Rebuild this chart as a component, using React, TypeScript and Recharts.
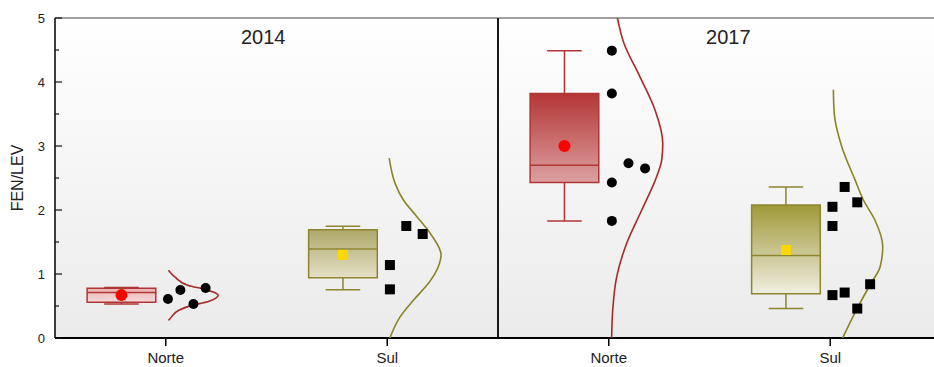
import React from 'react';
import {
  ComposedChart,
  XAxis,
  YAxis,
  Scatter,
  ReferenceArea,
  ReferenceLine,
  ReferenceDot,
} from 'recharts';

// Panels and groups inside each panel
const years = ['2014', '2017'];
const regions = ['Norte', 'Sul'];
const yTicks = [0, 0.5, 1, 1.5, 2, 2.5, 3, 3.5, 4, 4.5, 5];

// Box summaries, one entry per group: 2014 Norte, 2014 Sul, 2017 Norte, 2017 Sul
const whiskerLow = [0.53, 0.755, 1.83, 0.46];
const quartile1 = [0.557, 0.94, 2.43, 0.69];
const medians = [0.71, 1.39, 2.7, 1.29];
const quartile3 = [0.776, 1.69, 3.82, 2.08];
const whiskerHigh = [0.79, 1.745, 4.49, 2.36];
const means = [0.67, 1.3, 3.0, 1.375];

// Raw observations (value) with their jitter column (offset from the group tick)
const obsNorte2014 = [0.61, 0.75, 0.53, 0.78];
const jitNorte2014 = [0.01, 0.066, 0.125, 0.18];
const obsSul2014 = [1.14, 0.76, 1.75, 1.625];
const jitSul2014 = [0.012, 0.012, 0.086, 0.16];
const obsNorte2017 = [4.49, 3.82, 2.73, 2.65, 2.43, 1.83];
const jitNorte2017 = [0.014, 0.014, 0.089, 0.164, 0.014, 0.014];
const obsSul2017 = [2.05, 1.75, 2.36, 2.12, 0.67, 0.71, 0.84, 0.46];
const jitSul2017 = [0.01, 0.01, 0.065, 0.122, 0.01, 0.065, 0.18, 0.122];

// Normal-curve outlines: level (y) and width to the right of the group tick
const curveYNorte2014 = [1.06, 0.95, 0.82, 0.76, 0.67, 0.57, 0.51, 0.43, 0.3, 0.275];
const curveWNorte2014 = [0.012, 0.042, 0.102, 0.177, 0.237, 0.192, 0.117, 0.057, 0.019, 0.012];
const curveYSul2014 = [2.81, 2.42, 2.16, 1.9, 1.64, 1.375, 1.3, 1.11, 0.85, 0.59, 0.33, 0.07, 0.0];
const curveWSul2014 = [0.009, 0.035, 0.072, 0.133, 0.193, 0.238, 0.243, 0.23, 0.185, 0.118, 0.058, 0.02, 0.012];
const curveYNorte2017 = [5.0, 4.6, 4.08, 3.56, 3.04, 2.78, 2.52, 2.0, 1.48, 0.96, 0.44, 0.0];
const curveWNorte2017 = [0.039, 0.069, 0.141, 0.209, 0.244, 0.239, 0.216, 0.149, 0.081, 0.036, 0.018, 0.013];
const curveYSul2017 = [3.88, 3.51, 2.99, 2.47, 2.16, 1.84, 1.43, 1.11, 0.85, 0.46, 0.0];
const curveWSul2017 = [0.014, 0.018, 0.052, 0.112, 0.149, 0.202, 0.237, 0.225, 0.183, 0.121, 0.056];

// Styling per group
const strokeColors = ['#b03535', '#8d8530', '#b03535', '#8d8530'];
const curveColors = ['#a52a2a', '#8a8422', '#a52a2a', '#8a8422'];
const boxTop = ['#eab0b0', '#aea86a', '#b43636', '#9f9838'];
const boxBottom = ['#f6dada', '#e3e0c6', '#dca0a0', '#f0eee0'];
const meanColors = ['#ff0000', '#ffd700', '#ff0000', '#ffd700'];
const markerShapes = ['circle', 'square', 'circle', 'square'];

const FONT = '"Liberation Sans", Arial, sans-serif';
const BOX_SHIFT = -0.2;
const BOX_HALF = 0.155;
const CAP_HALF = 0.078;
const Y_TICK_GAP = 10;
const TITLE_X = [0.94, 3.04];

const groupCenter = (g: number) => g + 0.5;

const observations = [
  [obsNorte2014, jitNorte2014],
  [obsSul2014, jitSul2014],
  [obsNorte2017, jitNorte2017],
  [obsSul2017, jitSul2017],
];
const curves = [
  [curveYNorte2014, curveWNorte2014],
  [curveYSul2014, curveWSul2014],
  [curveYNorte2017, curveWNorte2017],
  [curveYSul2017, curveWSul2017],
];

const pointSeries = observations.map(([vals, jit], g) =>
  vals.map((v, i) => ({ x: groupCenter(g) + jit[i], y: v }))
);
const curveSeries = curves.map(([ys, ws], g) =>
  ys.map((y, i) => ({ x: groupCenter(g) + ws[i], y }))
);
const meanSeries = means.map((m, g) => [{ x: groupCenter(g) + BOX_SHIFT, y: m }]);

const Marker = (kind: string, fill: string, size: number) => (props: any) => {
  const { cx, cy } = props;
  if (cx == null || cy == null) return <g />;
  if (kind === 'circle') return <circle cx={cx} cy={cy} r={size / 2} fill={fill} />;
  return <rect x={cx - size / 2} y={cy - size / 2} width={size} height={size} fill={fill} />;
};

const NoMarker = () => <g />;

const YTick = (props: any) => {
  const { x, y, payload } = props;
  const major = Number.isInteger(payload.value);
  const ax = x + Y_TICK_GAP;
  return (
    <g>
      <line x1={ax} x2={ax + (major ? 7 : 4)} y1={y} y2={y} stroke="#111" strokeWidth={1.2} />
      {major && (
        <text x={x} y={y} dy="0.36em" textAnchor="end" fontSize={13} fill="#222" fontFamily={FONT}>
          {payload.value}
        </text>
      )}
    </g>
  );
};

export default function App() {
  return (
    <div style={{ position: 'absolute', left: 0, top: 0, width: 934, height: 367, overflow: 'hidden', background: '#fff' }}>
      <ComposedChart width={946} height={367} margin={{ top: 18, right: 5, left: 0, bottom: 0 }}>
        <defs>
          <linearGradient id="plotBg" x1="0" y1="0" x2="0" y2="1">
            <stop offset="0%" stopColor="#ffffff" />
            <stop offset="100%" stopColor="#ebebeb" />
          </linearGradient>
          {boxTop.map((c, g) => (
            <linearGradient key={g} id={`boxFill${g}`} x1="0" y1="0" x2="0" y2="1">
              <stop offset="0%" stopColor={c} />
              <stop offset="100%" stopColor={boxBottom[g]} />
            </linearGradient>
          ))}
        </defs>
        <XAxis
          type="number"
          dataKey="x"
          domain={[0, 4]}
          ticks={[0.5, 1.5, 2.5, 3.5]}
          interval={0}
          allowDataOverflow
          height={29}
          tickSize={8}
          tickMargin={6}
          tickFormatter={(v: number) => regions[Math.floor(v) % 2]}
          tick={{ fontSize: 15, fill: '#222', fontFamily: FONT }}
          axisLine={{ stroke: '#000', strokeWidth: 2 }}
          tickLine={{ stroke: '#000', strokeWidth: 1.5 }}
        />
        <YAxis
          type="number"
          dataKey="y"
          domain={[0, 5]}
          ticks={yTicks}
          interval={0}
          allowDataOverflow
          width={55}
          tickSize={0}
          tickLine={false}
          tickMargin={Y_TICK_GAP}
          tick={<YTick />}
          axisLine={{ stroke: '#000', strokeWidth: 1.5 }}
          label={{ value: 'FEN/LEV', angle: -90, position: 'center', dx: -10, fontSize: 16, fill: '#222', fontFamily: FONT }}
        />

        <ReferenceArea x1={0} x2={4} y1={0} y2={5} fill="url(#plotBg)" fillOpacity={1} stroke="none" />
        <ReferenceLine y={5} stroke="#444" strokeWidth={1.2} />
        <ReferenceLine x={2} stroke="#000" strokeWidth={1.8} />

        {years.map((yr, p) => (
          <ReferenceDot
            key={yr}
            x={TITLE_X[p]}
            y={4.7}
            r={1}
            fill="none"
            stroke="none"
            label={{ value: yr, position: 'center', fontSize: 20, fill: '#222', fontFamily: FONT }}
          />
        ))}

        {quartile1.map((q, g) => {
          const c = groupCenter(g) + BOX_SHIFT;
          return (
            <ReferenceArea
              key={`box${g}`}
              x1={c - BOX_HALF}
              x2={c + BOX_HALF}
              y1={q}
              y2={quartile3[g]}
              fill={`url(#boxFill${g})`}
              fillOpacity={1}
              stroke={strokeColors[g]}
              strokeWidth={1.5}
            />
          );
        })}
        {quartile1.map((q, g) => {
          const c = groupCenter(g) + BOX_SHIFT;
          const s = strokeColors[g];
          return (
            <React.Fragment key={`wh${g}`}>
              <ReferenceLine segment={[{ x: c, y: quartile3[g] }, { x: c, y: whiskerHigh[g] }]} stroke={s} strokeWidth={1.5} />
              <ReferenceLine segment={[{ x: c, y: whiskerLow[g] }, { x: c, y: q }]} stroke={s} strokeWidth={1.5} />
              <ReferenceLine segment={[{ x: c - CAP_HALF, y: whiskerHigh[g] }, { x: c + CAP_HALF, y: whiskerHigh[g] }]} stroke={s} strokeWidth={1.5} />
              <ReferenceLine segment={[{ x: c - CAP_HALF, y: whiskerLow[g] }, { x: c + CAP_HALF, y: whiskerLow[g] }]} stroke={s} strokeWidth={1.5} />
              <ReferenceLine segment={[{ x: c - BOX_HALF, y: medians[g] }, { x: c + BOX_HALF, y: medians[g] }]} stroke={s} strokeWidth={1.5} />
            </React.Fragment>
          );
        })}

        {curveSeries.map((pts, g) => (
          <Scatter
            key={`curve${g}`}
            data={pts}
            dataKey="y"
            line={{ stroke: curveColors[g], strokeWidth: 1.6 }}
            lineType="joint"
            lineJointType="monotoneY"
            shape={NoMarker}
            isAnimationActive={false}
            legendType="none"
          />
        ))}

        {pointSeries.map((pts, g) => (
          <Scatter
            key={`pts${g}`}
            data={pts}
            dataKey="y"
            shape={Marker(markerShapes[g], '#000', 10)}
            isAnimationActive={false}
            legendType="none"
          />
        ))}

        {meanSeries.map((pts, g) => (
          <Scatter
            key={`mean${g}`}
            data={pts}
            dataKey="y"
            shape={Marker(markerShapes[g], meanColors[g], markerShapes[g] === 'circle' ? 12 : 10)}
            isAnimationActive={false}
            legendType="none"
          />
        ))}
      </ComposedChart>
    </div>
  );
}
